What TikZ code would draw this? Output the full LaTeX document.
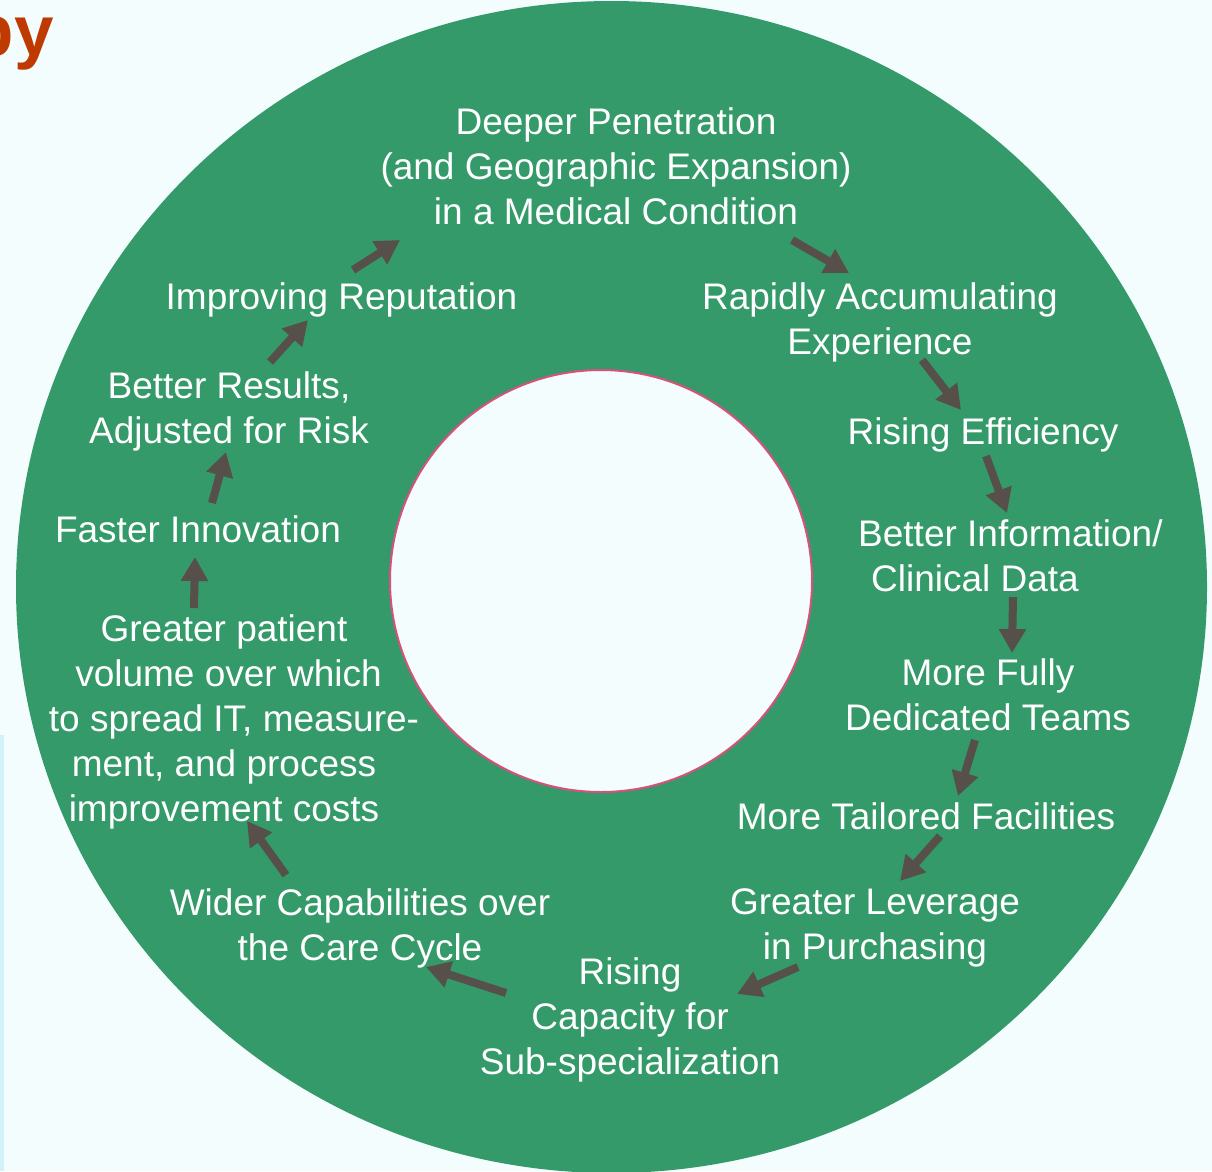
\documentclass[tikz,border=0pt]{standalone}
\usepackage{fontspec}
\setmainfont{Liberation Sans}
\usetikzlibrary{arrows.meta}
\definecolor{bg}{HTML}{F3FDFE}
\definecolor{ring}{HTML}{349A6A}
\definecolor{arr}{HTML}{564F4A}
\definecolor{rim}{HTML}{D6517B}
\definecolor{ttl}{HTML}{BF3A00}
\definecolor{strip}{HTML}{D4F0F8}
\begin{document}
\begin{tikzpicture}[x=1pt,y=-1pt,
  lbl/.style={text=white, align=center, font=\fontsize{37}{45}\selectfont, inner sep=0pt},
  flow/.style={draw=arr, line width=8pt, -{Triangle[length=24pt,width=26pt]}},
]
\fill[bg] (0,0) rectangle (1212,1171);
\useasboundingbox (0,0) rectangle (1212,1171);
\fill[strip] (0,735) rectangle (4,1171);
\fill[ring] (611.5,587) ellipse [x radius=595.5, y radius=586];
\draw[rim, line width=2pt, fill=bg] (601,581) circle [radius=211];

\node[text=ttl, font=\fontsize{71}{80}\selectfont\bfseries, inner sep=0pt, anchor=base east] (title) at (54,55) {py};

\node[lbl] (deep) at (616,166.5) {Deeper Penetration\\(and Geographic Expansion)\\in a Medical Condition};
\node[lbl] (exp) at (880,322) {Rapidly Accumulating\\Experience};
\node[lbl] (eff) at (983,435.4) {Rising Efficiency};
\node[lbl, align=left, anchor=west] (info) at (858,556) {Better Information/\\\hspace*{13pt}Clinical Data};
\node[lbl] (teams) at (988,695) {More Fully\\Dedicated Teams};
\node[lbl] (fac) at (926,816.5) {More Tailored Facilities};
\node[lbl] (lev) at (875,928) {Greater Leverage\\in Purchasing};
\node[lbl] (cap) at (630,1020.4) {Rising\\Capacity for\\Sub-specialization};
\node[lbl] (wide) at (360,928) {Wider Capabilities over\\the Care Cycle};
\node[lbl] (vol) at (224,722.4) {Greater patient\\\hspace*{9pt}volume over which\\\hspace*{20pt}to spread IT, measure-\\ment, and process\\improvement costs};
\node[lbl] (innov) at (198,529.5) {Faster Innovation};
\node[lbl] (res) at (229,411) {Better Results,\\Adjusted for Risk};
\node[lbl] (rep) at (341.5,300.4) {Improving Reputation};

\coordinate (a1s) at (353,270); \coordinate (a1e) at (400,240);
\coordinate (a2s) at (792,240); \coordinate (a2e) at (849,273);
\coordinate (a3s) at (922,360); \coordinate (a3e) at (961,410);
\coordinate (a4s) at (986,456); \coordinate (a4e) at (1007,513);
\coordinate (a5s) at (1013,597); \coordinate (a5e) at (1012,653);
\coordinate (a6s) at (975,740); \coordinate (a6e) at (958,796);
\coordinate (a7s) at (940,836); \coordinate (a7e) at (900,881);
\coordinate (a8s) at (798,967); \coordinate (a8e) at (737,994);
\coordinate (a9s) at (506,993); \coordinate (a9e) at (426,967);
\coordinate (a10s) at (286,875); \coordinate (a10e) at (247,821);
\coordinate (a11s) at (194,608); \coordinate (a11e) at (195,557);
\coordinate (a12s) at (212,503); \coordinate (a12e) at (226,452);
\coordinate (a13s) at (270,362); \coordinate (a13e) at (308,320);

\draw[flow] (a1s) -- (a1e);
\draw[flow] (a2s) -- (a2e);
\draw[flow] (a3s) -- (a3e);
\draw[flow] (a4s) -- (a4e);
\draw[flow] (a5s) -- (a5e);
\draw[flow] (a6s) -- (a6e);
\draw[flow] (a7s) -- (a7e);
\draw[flow] (a8s) -- (a8e);
\draw[flow] (a9s) -- (a9e);
\draw[flow] (a10s) -- (a10e);
\draw[flow] (a11s) -- (a11e);
\draw[flow] (a12s) -- (a12e);
\draw[flow] (a13s) -- (a13e);
\end{tikzpicture}
\end{document}
